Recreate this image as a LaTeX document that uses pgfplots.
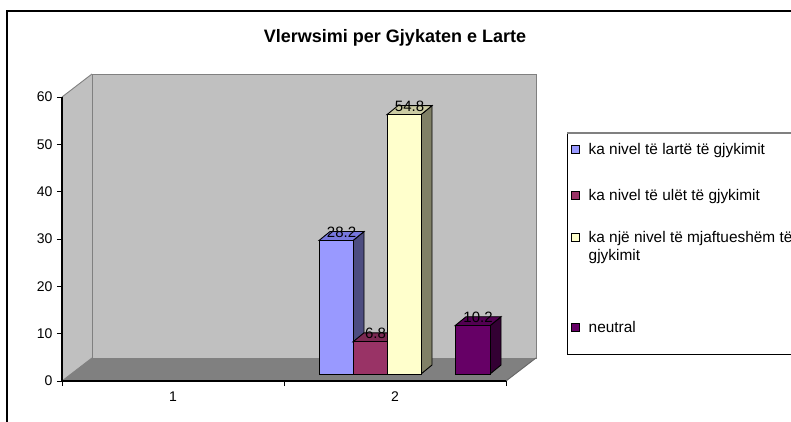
\documentclass[border=0pt]{standalone}
\usepackage{pgfplots}
\pgfplotsset{compat=1.18}
\usepackage{fontspec}
\setmainfont{Liberation Sans}

\definecolor{wallc}{HTML}{C0C0C0}
\definecolor{floorc}{HTML}{808080}
\definecolor{edgec}{HTML}{808080}
\definecolor{afront}{HTML}{9999FF}\definecolor{atop}{HTML}{7777DD}\definecolor{aside}{HTML}{4D4D80}
\definecolor{bfront}{HTML}{993366}\definecolor{btop}{HTML}{7A2952}\definecolor{bside}{HTML}{4C1933}
\definecolor{cfront}{HTML}{FFFFCC}\definecolor{ctop}{HTML}{CCCCA3}\definecolor{cside}{HTML}{808066}
\definecolor{dfront}{HTML}{660066}\definecolor{dtop}{HTML}{520052}\definecolor{dside}{HTML}{330033}

\begin{document}
\begin{tikzpicture}[x=1pt,y=1pt]
\begin{scope}
\clip (0,0) rectangle (791,421);
% outer chart frame
\draw[line width=1.2pt] (7,-20) rectangle (830,410);
% title
\node[font=\fontsize{18}{21}\selectfont\bfseries] at (395,383) {Vlerwsimi per Gjykaten e Larte};
% legend frame
\draw[line width=1pt] (567,288) -- (567,67) -- (830,67);
\draw[line width=1.6pt, gray] (567,288) -- (830,288);

% ---------- main axis: walls, floor, ticks, legend ----------
\begin{axis}[
  at={(62pt,40pt)}, anchor=south west,
  scale only axis, width=444pt, height=284pt,
  xmin=0, xmax=2, ymin=0, ymax=60,
  clip=false, axis on top,
  axis lines=left,
  axis line style={-, black, line width=1.2pt},
  tick align=outside, major tick length=5pt,
  tick style={black, line width=0.9pt},
  ytick={0,10,20,30,40,50,60},
  xtick={0,1,2}, xticklabels={},
  extra x ticks={0.5,1.5}, extra x tick labels={1,2},
  extra x tick style={major tick length=0pt, xticklabel style={yshift=-7pt}},
  ticklabel style={font=\fontsize{14}{16}\selectfont},
  /pgf/number format/assume math mode=true,
  yticklabel style={xshift=-1pt},
  legend style={draw=none, fill=none, inner sep=0pt, outer sep=0pt,
    at={(axis description cs:1.1464,0.838)}, anchor=north west,
    row sep=0pt, column sep=9pt,
    nodes={inner sep=0pt, outer sep=0pt, text depth=},
    cells={anchor=base west},
    font=\fontsize{15.4}{18}\selectfont},
  legend image code/.code={\draw[#1, line width=0.7pt] (0pt,0.5pt) rectangle (8pt,8.5pt);},
]
% back wall, side wall, floor
\fill[wallc] (axis cs:0.135,4.86) rectangle (axis cs:2.135,64.86);
\fill[wallc] (axis cs:0,0) -- (axis cs:0.135,4.86) -- (axis cs:0.135,64.86) -- (axis cs:0,60) -- cycle;
\fill[floorc] (axis cs:0,0) -- (axis cs:2,0) -- (axis cs:2.135,4.86) -- (axis cs:0.135,4.86) -- cycle;
\draw[edgec, line width=0.9pt] (axis cs:0.135,4.86) rectangle (axis cs:2.135,64.86);
\draw[edgec, line width=0.9pt] (axis cs:0,60) -- (axis cs:0.135,64.86);
\draw[edgec, line width=0.9pt] (axis cs:0,0) -- (axis cs:0.135,4.86);
\draw[black!60, line width=0.9pt] (axis cs:2,0) -- (axis cs:2.135,4.86);
\addlegendimage{fill=afront, draw=black}
\addlegendentry{\rule[-35pt]{0pt}{14pt}ka nivel të lartë të gjykimit}
\addlegendimage{fill=bfront, draw=black}
\addlegendentry{\rule[-28pt]{0pt}{14pt}ka nivel të ulët të gjykimit}
\addlegendimage{fill=cfront, draw=black}
\addlegendentry{\begin{tabular}[t]{@{}l@{}}\rule{0pt}{14pt}ka një nivel të mjaftueshëm të\\gjykimit\rule[-58pt]{0pt}{0pt}\end{tabular}}
\addlegendimage{fill=dfront, draw=black}
\addlegendentry{\rule{0pt}{14pt}neutral}
\end{axis}

% ---------- bar axis (placed at the mid depth of the box) ----------
\begin{axis}[
  at={(62pt,47pt)}, anchor=south west,
  scale only axis, width=444pt, height=284pt,
  xmin=0, xmax=444, ymin=0, ymax=60,
  hide axis, clip=false,
  every axis plot/.append style={line width=0.9pt, draw=black},
]
% bar 1
\addplot[fill=aside] coordinates {(291,0) (302,1.9) (302,30.1) (291,28.2)} --cycle;
\addplot[fill=atop] coordinates {(257,28.2) (291,28.2) (302,30.1) (268,30.1)} --cycle;
\addplot[ybar, bar width=34pt, fill=afront] coordinates {(274,28.2)};
% bar 2
\addplot[fill=bside] coordinates {(325,0) (336,1.9) (336,8.7) (325,6.8)} --cycle;
\addplot[fill=btop] coordinates {(291,6.8) (325,6.8) (336,8.7) (302,8.7)} --cycle;
\addplot[ybar, bar width=34pt, fill=bfront] coordinates {(308,6.8)};
% bar 3
\addplot[fill=cside] coordinates {(359,0) (370,1.9) (370,56.7) (359,54.8)} --cycle;
\addplot[fill=ctop] coordinates {(325,54.8) (359,54.8) (370,56.7) (336,56.7)} --cycle;
\addplot[ybar, bar width=34pt, fill=cfront] coordinates {(342,54.8)};
% bar 4
\addplot[fill=dside] coordinates {(428,0) (439,1.9) (439,12.1) (428,10.2)} --cycle;
\addplot[fill=dtop] coordinates {(393,10.2) (428,10.2) (439,12.1) (404,12.1)} --cycle;
\addplot[ybar, bar width=35pt, fill=dfront] coordinates {(410.5,10.2)};
% value labels
\addplot[draw=none, mark=none, nodes near coords, point meta=explicit symbolic,
  every node near coord/.append style={anchor=center, inner sep=0pt, font=\fontsize{15}{17}\selectfont, text=black}]
  coordinates {(279.5,30.0)[28.2] (313.5,8.6)[6.8] (347.5,56.6)[54.8] (416,12.0)[10.2]};
\end{axis}
\end{scope}
\pgfresetboundingbox
\path[use as bounding box] (0,0) rectangle (791,421);
\end{tikzpicture}
\end{document}
